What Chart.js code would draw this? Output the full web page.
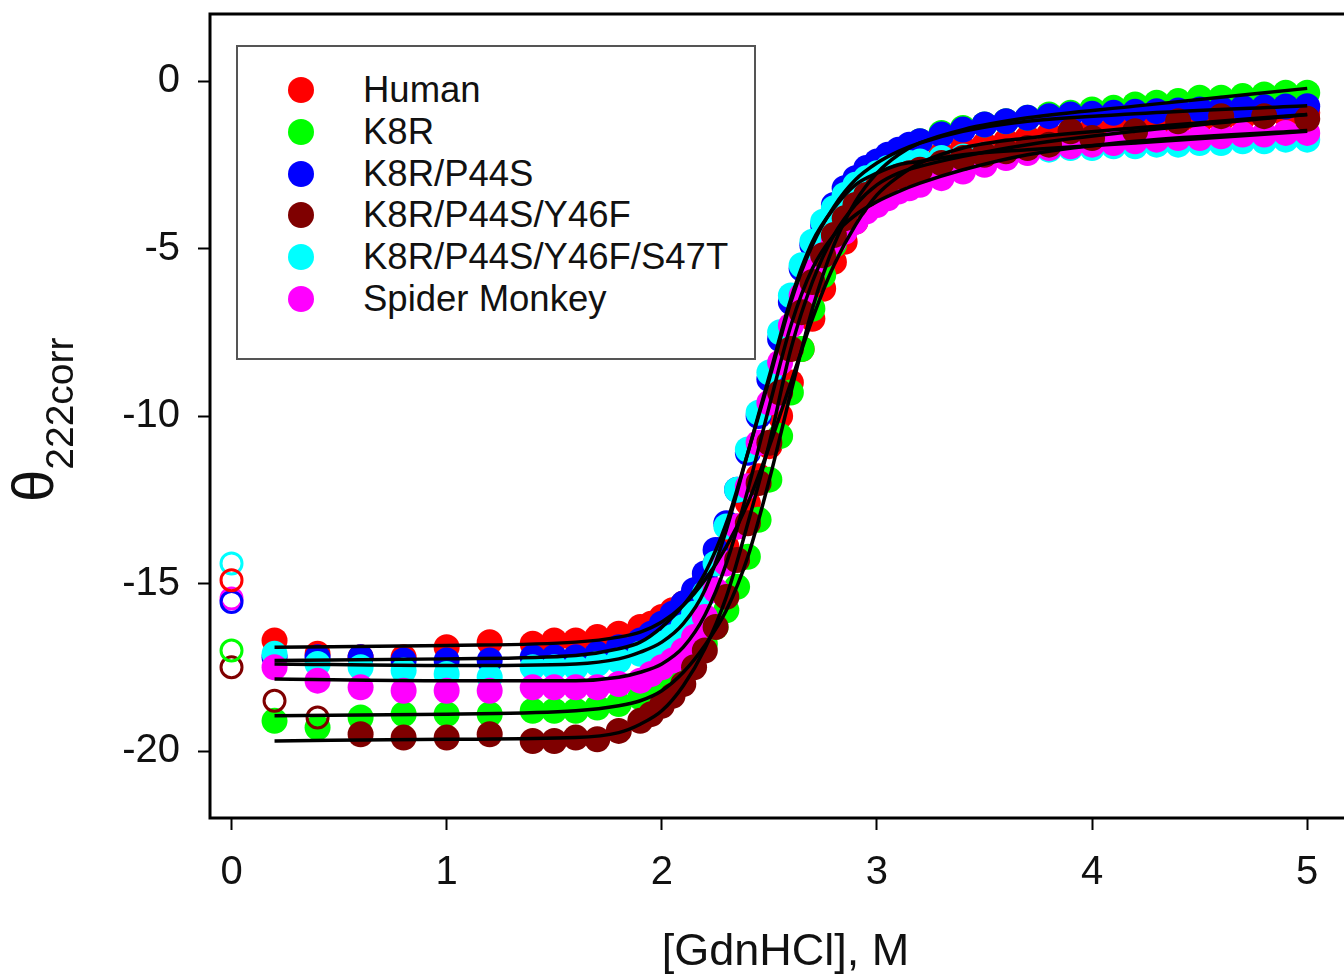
<!DOCTYPE html>
<html lang="en">
<head>
    <meta charset="UTF-8">
    <title>GdnHCl denaturation</title>
    <script src="https://cdn.jsdelivr.net/npm/chart.js"></script>
    <style>
        body {
            margin: 0;
            padding: 0;
            background: #ffffff;
            overflow: hidden;
            font-family: 'Liberation Sans', Arial, sans-serif;
        }

        .chart-wrapper {
            position: relative;
            width: 1400px;
            height: 1000px;
        }

        .legend-box {
            position: absolute;
            left: 236px;
            top: 45px;
            width: 516px;
            height: 289px;
            border: 2px solid #555;
            background: #fff;
            padding-top: 22px;
            box-sizing: content-box;
        }

        .legend-row {
            position: relative;
            height: 41.8px;
            line-height: 41.8px;
            font-size: 36.5px;
            color: #111;
        }

        .legend-row .dot {
            position: absolute;
            left: 50px;
            top: 8px;
            width: 26px;
            height: 26px;
            border-radius: 50%;
        }

        .legend-row .label {
            position: absolute;
            left: 125px;
            top: 0;
            white-space: nowrap;
        }

        .y-title {
            position: absolute;
            left: 3px;
            top: 502px;
            transform: rotate(-90deg);
            transform-origin: left top;
            white-space: nowrap;
            line-height: 60px;
            font-size: 58px;
            color: #111;
        }

        .y-title span {
            font-size: 39px;
            position: relative;
            top: 20px;
        }
    </style>
</head>
<body>
    <div class="chart-wrapper">
        <canvas id="chart"></canvas>
        <div class="y-title">θ<span>222corr</span></div>
        <div class="legend-box" id="legend"></div>
    </div>
    <script>
        // [GdnHCl] (M) for the filled symbols
        const gdn = [0.2, 0.4, 0.6, 0.8, 1.0, 1.2, 1.4, 1.5, 1.6, 1.7, 1.8, 1.9,
            1.95, 2.0, 2.05, 2.1, 2.15, 2.2, 2.25, 2.3, 2.35, 2.4, 2.45, 2.5, 2.55, 2.6,
            2.65, 2.7, 2.75, 2.8, 2.85, 2.9, 2.95, 3.0, 3.05, 3.1, 3.15, 3.2,
            3.3, 3.4, 3.5, 3.6, 3.7, 3.8, 3.9, 4.0, 4.1, 4.2, 4.3, 4.4, 4.5, 4.6, 4.7, 4.8, 4.9, 5.0];

        const human = [-16.7, -17.1, -17.2, -17.2, -16.9, -16.75, -16.8, -16.7, -16.7, -16.6, -16.5, -16.3,
            -16.2, -16.0, -15.8, -15.6, -15.3, -14.9, -14.4, -13.9, -13.3, -12.6, -11.8, -10.9, -10.0, -9.0,
            -8.0, -7.1, -6.2, -5.4, -4.8, -4.2, -3.7, -3.3, -3.0, -2.75, -2.55, -2.4,
            -2.2, -2.0, -1.9, -1.8, -1.7, -1.6, -1.5, -1.45, -1.4, -1.35, -1.3, -1.25, -1.2, -1.15, -1.1, -1.05, -1.0, -0.95];

        const k8r = [-19.1, -19.3, -19.0, -18.9, -18.9, -18.9, -18.8, -18.8, -18.8, -18.7, -18.6, -18.4,
            -18.3, -18.1, -17.9, -17.6, -17.2, -16.8, -16.3, -15.8, -15.1, -14.2, -13.1, -11.9, -10.6, -9.3,
            -8.0, -6.8, -5.8, -4.9, -4.2, -3.6, -3.1, -2.7, -2.4, -2.15, -1.95, -1.8,
            -1.55, -1.4, -1.3, -1.2, -1.1, -1.0, -0.95, -0.85, -0.8, -0.7, -0.65, -0.6, -0.5, -0.5, -0.45, -0.4, -0.35, -0.35];

        const k8rP44s = [-17.2, -17.2, -17.2, -17.3, -17.3, -17.3, -17.2, -17.2, -17.2, -17.1, -16.9, -16.7,
            -16.5, -16.2, -15.9, -15.6, -15.2, -14.7, -14.0, -13.2, -12.2, -11.1, -10.0, -8.9, -7.7, -6.6,
            -5.6, -4.9, -4.3, -3.7, -3.2, -2.9, -2.6, -2.4, -2.2, -2.05, -1.9, -1.8,
            -1.6, -1.45, -1.3, -1.2, -1.1, -1.05, -1.0, -0.98, -0.95, -0.92, -0.9, -0.88, -0.85, -0.83, -0.8, -0.78, -0.76, -0.75];

        const k8rP44sY46f = [null, null, -19.5, -19.6, -19.6, -19.5, -19.7, -19.7, -19.6, -19.65, -19.4, -19.1,
            -18.9, -18.65, -18.35, -18.0, -17.5, -17.0, -16.3, -15.4, -14.3, -13.2, -12.0, -10.8, -9.3, -8.0,
            -6.9, -6.0, -5.2, -4.6, -4.1, -3.7, -3.4, -3.2, -3.0, -2.85, -2.75, -2.65,
            -2.45, -2.3, -2.2, -2.1, -2.0, -1.9, -1.5, -1.7, null, -1.5, null, -1.2, null, -1.05, null, -1.05, null, -1.13];

        const k8rP44sY46fS47t = [-17.1, -17.4, -17.5, -17.6, -17.7, -17.8, -17.5, -17.5, -17.5, -17.4, -17.3, -17.1,
            -17.0, -16.8, -16.6, -16.3, -15.9, -15.3, -14.4, -13.3, -12.2, -11.0, -9.9, -8.7, -7.5, -6.4,
            -5.5, -4.8, -4.2, -3.8, -3.4, -3.1, -2.9, -2.75, -2.6, -2.5, -2.45, -2.4,
            -2.3, -2.25, -2.2, -2.15, -2.1, -2.05, -2.0, -2.0, -1.95, -1.95, -1.9, -1.9, -1.85, -1.85, -1.8, -1.8, -1.75, -1.75];

        const spiderMonkey = [-17.5, -17.9, -18.1, -18.2, -18.2, -18.2, -18.1, -18.1, -18.1, -18.1, -18.0, -17.9,
            -17.7, -17.5, -17.3, -17.0, -16.6, -16.0, -15.2, -14.4, -13.3, -12.1, -10.8, -9.6, -8.4, -7.3,
            -6.4, -5.7, -5.2, -4.8, -4.5, -4.2, -3.9, -3.7, -3.5, -3.3, -3.2, -3.1,
            -2.9, -2.7, -2.5, -2.3, -2.15, -2.0, -1.95, -1.9, -1.85, -1.8, -1.75, -1.7, -1.7, -1.65, -1.6, -1.6, -1.55, -1.55];

        // fitted curves (black lines), read at these concentrations
        const fitGdn = [0.2, 1.0, 1.6, 1.8, 1.9, 2.0, 2.1, 2.2, 2.3, 2.4, 2.5, 2.6, 2.7, 2.8, 2.9, 3.0, 3.1, 3.2, 3.4, 3.7, 4.2, 5.0];
        const humanFit = [-16.9, -16.85, -16.75, -16.6, -16.45, -16.15, -15.65, -14.9, -13.9, -12.6, -10.9, -9.0, -7.1, -5.5, -4.3, -3.4, -2.85, -2.45, -2.0, -1.7, -1.4, -1.0];
        const k8rFit = [-18.95, -18.9, -18.8, -18.65, -18.5, -18.2, -17.65, -16.85, -15.8, -14.2, -11.9, -9.3, -6.8, -4.9, -3.6, -2.75, -2.2, -1.85, -1.45, -1.1, -0.75, -0.22];
        const k8rP44sFit = [-17.3, -17.25, -17.15, -16.95, -16.75, -16.3, -15.65, -14.7, -13.2, -11.1, -8.9, -6.6, -4.9, -3.75, -2.95, -2.45, -2.1, -1.85, -1.5, -1.2, -0.98, -0.74];
        const k8rP44sY46fFit = [-19.7, -19.65, -19.6, -19.45, -19.2, -18.8, -18.05, -16.95, -15.4, -13.2, -10.8, -8.0, -6.0, -4.6, -3.7, -3.1, -2.75, -2.55, -2.25, -1.9, -1.5, -1.0];
        const k8rP44sY46fS47tFit = [-17.4, -17.45, -17.4, -17.25, -17.05, -16.75, -16.2, -15.2, -13.4, -11.1, -8.8, -6.5, -4.8, -3.8, -3.1, -2.75, -2.5, -2.4, -2.2, -2.05, -1.85, -1.5];
        const spiderMonkeyFit = [-17.85, -17.9, -17.9, -17.8, -17.65, -17.4, -16.9, -15.95, -14.4, -12.2, -9.7, -7.3, -5.6, -4.6, -4.0, -3.6, -3.3, -3.05, -2.65, -2.2, -1.8, -1.48];

        // open symbols at 0 M (one per protein), plus the two excluded Y46F points
        const zeroGdn = [0, 0, 0, 0, 0, 0];
        const zeroValues = [-14.9, -17.0, -15.55, -17.5, -14.4, -15.45];
        const y46fOpenGdn = [0.2, 0.4];
        const y46fOpenValues = [-18.5, -19.0];

        const seriesNames = ['Human', 'K8R', 'K8R/P44S', 'K8R/P44S/Y46F', 'K8R/P44S/Y46F/S47T', 'Spider Monkey'];
        const seriesValues = [human, k8r, k8rP44s, k8rP44sY46f, k8rP44sY46fS47t, spiderMonkey];
        const seriesFits = [humanFit, k8rFit, k8rP44sFit, k8rP44sY46fFit, k8rP44sY46fS47tFit, spiderMonkeyFit];
        const seriesColors = ['#ff0000', '#00ff00', '#0000ff', '#7f0000', '#00ffff', '#ff00ff'];
        const drawOrder = [7, 6, 5, 2, 4, 3]; // lower number is drawn on top

        const xTicks = [0, 1, 2, 3, 4, 5];
        const yTicks = [-20, -15, -10, -5, 0];

        const fontFamily = "'Liberation Sans', Arial, sans-serif";

        function toPoints(xs, ys) {
            return xs.map((x, i) => ({x: x, y: ys[i]})).filter(p => p.y !== null);
        }

        const datasets = [];

        seriesNames.forEach((name, i) => {
            datasets.push({
                label: name,
                data: toPoints(gdn, seriesValues[i]),
                showLine: false,
                pointRadius: 13,
                pointBorderWidth: 0,
                pointBackgroundColor: seriesColors[i],
                pointHoverRadius: 13,
                order: drawOrder[i]
            });
        });

        seriesNames.forEach((name, i) => {
            datasets.push({
                label: name + ' fit',
                data: toPoints(fitGdn, seriesFits[i]),
                showLine: true,
                borderColor: '#000',
                borderWidth: 3.5,
                pointRadius: 0,
                pointHoverRadius: 0,
                cubicInterpolationMode: 'monotone',
                order: 0
            });
        });

        // open circles at 0 M, blue before magenta so magenta sits inside
        seriesNames.forEach((name, i) => {
            datasets.push({
                label: name + ' 0 M',
                data: [{x: zeroGdn[i], y: zeroValues[i]}],
                showLine: false,
                pointRadius: 10.5,
                pointBorderWidth: 3,
                pointBorderColor: seriesColors[i],
                pointBackgroundColor: 'rgba(0,0,0,0)',
                order: 1
            });
        });

        datasets.push({
            label: 'K8R/P44S/Y46F excluded',
            data: toPoints(y46fOpenGdn, y46fOpenValues),
            showLine: false,
            pointRadius: 10.5,
            pointBorderWidth: 3,
            pointBorderColor: seriesColors[3],
            pointBackgroundColor: 'rgba(0,0,0,0)',
            order: 1
        });

        // box around the plot area
        const framePlugin = {
            id: 'frame',
            afterDraw(chart) {
                const {ctx, chartArea} = chart;
                ctx.save();
                ctx.strokeStyle = '#000';
                ctx.lineWidth = 3;
                ctx.strokeRect(chartArea.left, chartArea.top,
                    chartArea.right - chartArea.left, chartArea.bottom - chartArea.top);
                ctx.restore();
            }
        };

        const ctx = document.getElementById('chart').getContext('2d');
        new Chart(ctx, {
            type: 'scatter',
            data: {datasets: datasets},
            options: {
                responsive: true,
                maintainAspectRatio: false,
                animation: false,
                events: [],
                layout: {
                    padding: {top: 14, right: 39, left: 0, bottom: 0}
                },
                scales: {
                    x: {
                        type: 'linear',
                        position: 'bottom',
                        min: -0.1,
                        max: 5.25,
                        afterBuildTicks: scale => {
                            scale.ticks = xTicks.map(v => ({value: v}));
                        },
                        afterFit: scale => {
                            scale.height = 182;
                            scale.paddingLeft = 0;
                            scale.paddingRight = 0;
                        },
                        border: {display: false},
                        grid: {
                            drawOnChartArea: false,
                            drawTicks: true,
                            tickLength: 12,
                            tickWidth: 2,
                            tickColor: '#000'
                        },
                        ticks: {
                            color: '#111',
                            padding: 19,
                            maxRotation: 0,
                            font: {family: fontFamily, size: 40}
                        },
                        title: {
                            display: true,
                            text: '[GdnHCl], M',
                            color: '#111',
                            font: {family: fontFamily, size: 45},
                            padding: {top: 0, bottom: 20}
                        }
                    },
                    y: {
                        type: 'linear',
                        min: -22,
                        max: 2,
                        afterBuildTicks: scale => {
                            scale.ticks = yTicks.map(v => ({value: v}));
                        },
                        afterFit: scale => {
                            scale.width = 210;
                            scale.paddingTop = 0;
                            scale.paddingBottom = 0;
                        },
                        border: {display: false},
                        grid: {
                            drawOnChartArea: false,
                            drawTicks: true,
                            tickLength: 12,
                            tickWidth: 2,
                            tickColor: '#000'
                        },
                        ticks: {
                            color: '#111',
                            padding: 18,
                            font: {family: fontFamily, size: 40}
                        }
                    }
                },
                plugins: {
                    legend: {display: false},
                    tooltip: {enabled: false}
                }
            },
            plugins: [framePlugin]
        });

        // legend inside the plot, built from the series names and colours
        const legend = document.getElementById('legend');
        seriesNames.forEach((name, i) => {
            const row = document.createElement('div');
            row.className = 'legend-row';
            const dot = document.createElement('div');
            dot.className = 'dot';
            dot.style.background = seriesColors[i];
            const label = document.createElement('div');
            label.className = 'label';
            label.textContent = name;
            row.appendChild(dot);
            row.appendChild(label);
            legend.appendChild(row);
        });
    </script>
</body>
</html>
